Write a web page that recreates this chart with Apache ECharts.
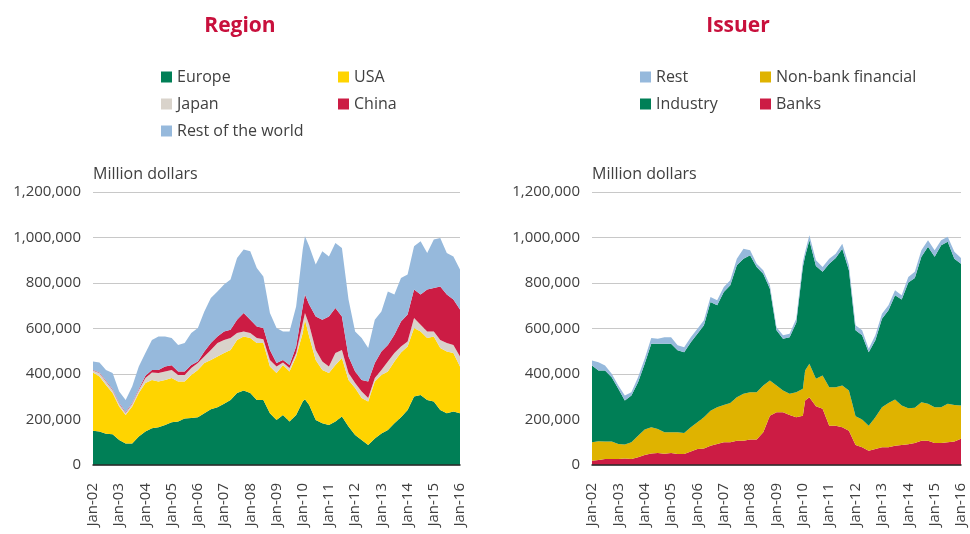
<!DOCTYPE html>
<html>
<head>
<meta charset="utf-8">
<script src="https://cdn.jsdelivr.net/npm/echarts@6/dist/echarts.min.js"></script>
<style>
  html, body { margin: 0; background: #fff; }
  #main { width: 970px; height: 534px; }
</style>
</head>
<body>
<div id="main"></div>
<script>
  // sample dates (quarterly, plus the Feb-10 peak)
  var months = [
    '2002-01', '2002-04', '2002-07', '2002-10', '2003-01', '2003-04', '2003-07', '2003-10',
    '2004-01', '2004-04', '2004-07', '2004-10', '2005-01', '2005-04', '2005-07', '2005-10',
    '2006-01', '2006-04', '2006-07', '2006-10', '2007-01', '2007-04', '2007-07', '2007-10',
    '2008-01', '2008-04', '2008-07', '2008-10', '2009-01', '2009-04', '2009-07', '2009-10',
    '2010-01', '2010-02', '2010-04', '2010-07', '2010-10', '2011-01', '2011-04', '2011-07',
    '2011-10', '2012-01', '2012-04', '2012-07', '2012-10', '2013-01', '2013-04', '2013-07',
    '2013-10', '2014-01', '2014-04', '2014-07', '2014-10', '2015-01', '2015-04', '2015-07',
    '2015-10', '2016-01'
  ];

  // Region (million dollars)
  var europe = [
    151000, 147000, 137000, 135000, 110000, 95000, 95000, 125000,
    147000, 161000, 166000, 176000, 188000, 191000, 204000, 207000,
    210000, 228000, 245000, 254000, 269000, 286000, 316000, 327000,
    316000, 286000, 286000, 228000, 198000, 220000, 191000, 220000,
    279000, 289000, 264000, 198000, 184000, 176000, 191000, 213000,
    169000, 132000, 110000, 88000, 117000, 139000, 154000, 184000,
    210000, 242000, 301000, 308000, 286000, 279000, 242000, 228000,
    235000, 228000
  ];
  var usa = [
    256000, 242000, 215000, 181000, 147000, 125000, 162000, 191000,
    213000, 213000, 201000, 198000, 194000, 176000, 163000, 189000,
    208000, 220000, 217000, 223000, 223000, 220000, 234000, 238000,
    242000, 250000, 250000, 205000, 206000, 220000, 220000, 257000,
    301000, 350000, 301000, 264000, 234000, 228000, 249000, 257000,
    205000, 206000, 184000, 191000, 250000, 257000, 257000, 271000,
    285000, 279000, 301000, 279000, 272000, 286000, 272000, 271000,
    257000, 205000
  ];
  var japan = [
    8000, 15000, 15000, 14000, 12000, 10000, 12000, 14000,
    22000, 33000, 37000, 37000, 36000, 29000, 29000, 30000,
    30000, 29000, 44000, 59000, 58000, 52000, 30000, 22000,
    22000, 22000, 17000, 29000, 29000, 11000, 15000, 15000,
    44000, 29000, 52000, 44000, 37000, 29000, 52000, 36000,
    30000, 22000, 29000, 15000, 15000, 22000, 44000, 37000,
    26000, 22000, 44000, 30000, 29000, 22000, 36000, 37000,
    36000, 44000
  ];
  var china = [
    3000, 3000, 3000, 3000, 3000, 3000, 3000, 4000,
    10000, 11000, 14000, 22000, 21000, 15000, 15000, 14000,
    7000, 22000, 30000, 29000, 37000, 37000, 59000, 81000,
    59000, 51000, 49000, 44000, 15000, 11000, 14000, 29000,
    73000, 81000, 88000, 147000, 184000, 220000, 198000, 147000,
    73000, 51000, 51000, 73000, 66000, 81000, 73000, 81000,
    110000, 118000, 125000, 132000, 184000, 191000, 235000, 213000,
    199000, 206000
  ];
  var restWorld = [
    37000, 44000, 48000, 71000, 51000, 53000, 73000, 99000,
    100000, 132000, 147000, 132000, 119000, 117000, 125000, 140000,
    147000, 176000, 198000, 198000, 206000, 220000, 271000, 279000,
    301000, 257000, 227000, 162000, 154000, 125000, 147000, 176000,
    250000, 257000, 257000, 228000, 301000, 264000, 286000, 301000,
    250000, 176000, 184000, 147000, 191000, 176000, 235000, 176000,
    191000, 176000, 191000, 235000, 161000, 213000, 213000, 183000,
    190000, 176000
  ];

  // Issuer (million dollars)
  var banks = [
    19000, 22000, 26000, 26000, 26000, 29000, 26000, 34000,
    44000, 51000, 53000, 50000, 53000, 48000, 48000, 59000,
    70000, 73000, 85000, 92000, 100000, 100000, 107000, 107000,
    112000, 112000, 144000, 217000, 232000, 232000, 220000, 210000,
    217000, 283000, 298000, 258000, 247000, 173000, 173000, 166000,
    151000, 88000, 78000, 63000, 70000, 78000, 78000, 85000,
    88000, 91000, 97000, 107000, 107000, 97000, 97000, 100000,
    103000, 115000
  ];
  var nonBank = [
    81000, 82000, 77000, 77000, 66000, 61000, 74000, 95000,
    112000, 115000, 105000, 94000, 91000, 96000, 93000, 107000,
    118000, 137000, 154000, 162000, 164000, 173000, 191000, 206000,
    208000, 208000, 205000, 154000, 117000, 95000, 93000, 110000,
    118000, 132000, 147000, 121000, 146000, 169000, 169000, 183000,
    176000, 126000, 122000, 110000, 140000, 176000, 195000, 203000,
    173000, 159000, 155000, 169000, 162000, 157000, 157000, 169000,
    161000, 146000
  ];
  var industry = [
    337000, 311000, 312000, 283000, 243000, 193000, 205000, 235000,
    289000, 367000, 375000, 389000, 389000, 360000, 355000, 374000,
    389000, 404000, 477000, 448000, 496000, 517000, 580000, 594000,
    602000, 550000, 492000, 404000, 243000, 228000, 249000, 305000,
    536000, 504000, 543000, 496000, 456000, 543000, 568000, 602000,
    529000, 378000, 370000, 323000, 338000, 389000, 407000, 458000,
    467000, 552000, 570000, 639000, 690000, 661000, 712000, 712000,
    643000, 624000
  ];
  var restIssuer = [
    22000, 37000, 22000, 15000, 14000, 22000, 15000, 22000,
    22000, 25000, 22000, 29000, 29000, 22000, 22000, 22000,
    22000, 22000, 22000, 22000, 22000, 22000, 29000, 44000,
    22000, 15000, 15000, 15000, 14000, 15000, 15000, 18000,
    22000, 18000, 22000, 25000, 21000, 22000, 19000, 22000,
    22000, 22000, 22000, 15000, 22000, 22000, 22000, 22000,
    18000, 24000, 27000, 29000, 29000, 29000, 22000, 22000,
    30000, 25000
  ];

  var textColor = '#404040';
  var fontFamily = '"Open Sans", "Noto Sans", sans-serif';
  var YEAR = 365 * 24 * 3600 * 1000;

  function toTime(s) {
    var p = s.split('-');
    return new Date(parseInt(p[0], 10), parseInt(p[1], 10) - 1, 1).getTime();
  }

  function area(name, color, vals, idx) {
    return {
      name: name,
      type: 'line',
      xAxisIndex: idx,
      yAxisIndex: idx,
      stack: 'total' + idx,
      symbol: 'none',
      silent: true,
      lineStyle: { width: 0 },
      itemStyle: { color: color },
      areaStyle: { color: color, opacity: 1 },
      data: months.map(function (m, i) { return [toTime(m), vals[i]]; })
    };
  }

  function xAxis(idx) {
    return {
      type: 'time',
      gridIndex: idx,
      min: toTime('2002-01'),
      max: toTime('2016-01'),
      minInterval: YEAR,
      maxInterval: YEAR + 2 * 24 * 3600 * 1000,
      z: 5,
      splitLine: { show: false },
      axisTick: { show: false },
      axisLine: { lineStyle: { color: '#2a2a2a', width: 1.5 } },
      axisLabel: {
        rotate: 90,
        margin: 18,
        fontSize: 15,
        color: textColor,
        fontFamily: fontFamily,
        showMinLabel: true,
        showMaxLabel: true,
        hideOverlap: false,
        formatter: function (v) {
          var d = new Date(v);
          if (d.getMonth() !== 0) return '';
          var y = d.getFullYear() % 100;
          return 'Jan-' + (y < 10 ? '0' + y : y);
        }
      }
    };
  }

  function yAxis(idx) {
    return {
      type: 'value',
      gridIndex: idx,
      min: 0,
      max: 1200000,
      interval: 200000,
      name: 'Million dollars',
      nameLocation: 'end',
      nameGap: 18,
      nameTextStyle: { align: 'left', verticalAlign: 'middle', fontSize: 16, color: textColor, fontFamily: fontFamily },
      axisLine: { show: false },
      axisTick: { show: false },
      splitLine: { lineStyle: { color: '#c8c8c8', width: 1 } },
      axisLabel: {
        margin: 12,
        fontSize: 15,
        color: textColor,
        fontFamily: fontFamily,
        formatter: function (v) { return v.toLocaleString('en-US'); }
      }
    };
  }

  function legend(names, left) {
    return {
      data: names,
      left: left,
      top: 69,
      padding: 0,
      orient: 'vertical',
      icon: 'rect',
      itemWidth: 11,
      itemHeight: 11,
      itemGap: 11,
      selectedMode: false,
      textStyle: { fontSize: 16, color: textColor, fontFamily: fontFamily }
    };
  }

  var myChart = echarts.init(document.getElementById('main'));

  var option = {
    animation: false,
    graphic: [
      { type: 'text', x: 240, y: 26, style: { text: 'Region', align: 'center', verticalAlign: 'middle', fill: '#c8103c', font: 'bold 21px ' + fontFamily } },
      { type: 'text', x: 738, y: 26, style: { text: 'Issuer', align: 'center', verticalAlign: 'middle', fill: '#c8103c', font: 'bold 21px ' + fontFamily } }
    ],
    legend: [
      legend(['Europe', 'Japan', 'Rest of the world'], 161),
      legend(['USA', 'China'], 338),
      legend(['Rest', 'Industry'], 640),
      legend(['Non-bank financial', 'Banks'], 760)
    ],
    grid: [
      { left: 93, top: 192, width: 367, height: 273 },
      { left: 592, top: 192, width: 369, height: 273 }
    ],
    xAxis: [xAxis(0), xAxis(1)],
    yAxis: [yAxis(0), yAxis(1)],
    series: [
      area('Europe', '#007f56', europe, 0),
      area('USA', '#ffd400', usa, 0),
      area('Japan', '#d9d3cb', japan, 0),
      area('China', '#cc1c44', china, 0),
      area('Rest of the world', '#96b9dc', restWorld, 0),
      area('Banks', '#cc1c44', banks, 1),
      area('Non-bank financial', '#dfb300', nonBank, 1),
      area('Industry', '#007f56', industry, 1),
      area('Rest', '#96b9dc', restIssuer, 1)
    ]
  };

  myChart.setOption(option);
</script>
</body>
</html>
